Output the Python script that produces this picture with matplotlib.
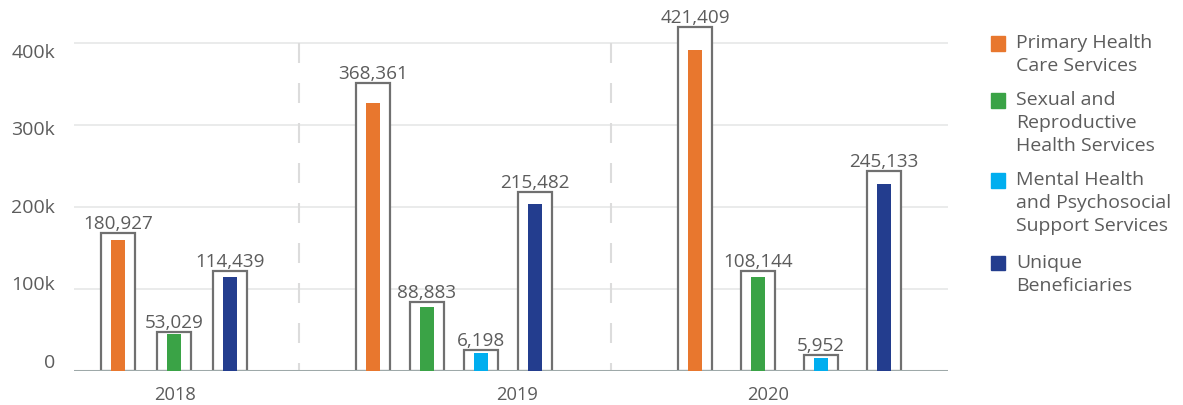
import matplotlib
matplotlib.use('Agg')
from matplotlib import pyplot as plt
from matplotlib.patches import Rectangle

plt.rcParams['font.family'] = ['Open Sans', 'DejaVu Sans']

years = ['2018', '2019', '2020']
series = ['Primary Health\nCare Services',
          'Sexual and\nReproductive\nHealth Services',
          'Mental Health\nand Psychosocial\nSupport Services',
          'Unique\nBeneficiaries']
colors = ['#E8772E', '#3AA346', '#00AEEF', '#233D8E']

# labelled values (None = no bar that year)
primary = [180927, 368361, 421409]
sexual = [53029, 88883, 108144]
mental = [None, 6198, 5952]
unique = [114439, 215482, 245133]

# heights as drawn in the picture (outer box and inner filled bar), in k
box_primary = [168.7, 350.9, 419.5]
box_sexual = [47.9, 83.8, 122.3]
box_mental = [None, 26.0, 19.1]
box_unique = [122.3, 218.7, 244.3]
fill_primary = [159.8, 326.8, 391.5]
fill_sexual = [45.1, 78.0, 114.6]
fill_mental = [None, 22.0, 15.9]
fill_unique = [114.6, 203.7, 228.0]

values = [primary, sexual, mental, unique]
boxes = [box_primary, box_sexual, box_mental, box_unique]
fills = [fill_primary, fill_sexual, fill_mental, fill_unique]

# layout (pixel-ish units along x)
W, H = 1183, 406
x0, x1 = 74, 948
y_zero = 372
px_per_k = 0.82
group_start = [118, 373, 695]
group_step = [56, 54, 63]
year_x = [175.5, 516.7, 767.7]
sep_x = [298.7, 611.3]
grey = '#5c5c5c'

fig = plt.figure(figsize=(W / 100, H / 100), dpi=100)
ax = fig.add_axes([x0 / W, (H - y_zero) / H, (x1 - x0) / W, y_zero / H])
ax.set_xlim(x0, x1)
ax.set_ylim(0, y_zero / px_per_k)
ax.axis('off')

for k in [100, 200, 300, 400]:
    ax.axhline(k, color='#e6e8e8', lw=1.2, zorder=0)
ax.axhline(0, color='#9ea9a9', lw=2.2, zorder=3)
for sx in sep_x:
    ax.plot([sx, sx], [400, 0], color='#dcdcdc', lw=1.5, zorder=0,
            dashes=(9.6, 9.6), solid_capstyle='butt')

for g in range(len(years)):
    slot = 0
    for s in range(len(series)):
        if values[s][g] is None:
            continue
        xc = group_start[g] + slot * group_step[g]
        slot += 1
        ax.bar(xc, boxes[s][g], width=34.5, color='white', edgecolor='#707070',
               linewidth=1.6, zorder=2)
        ax.bar(xc, fills[s][g], width=14.5, color=colors[s], zorder=3)
        ax.annotate(f'{values[s][g]:,}', (xc, boxes[s][g]), xytext=(0, 3.5),
                    textcoords='offset points', ha='center', va='baseline',
                    fontsize=13.6, color=grey)
    ax.text(year_x[g], -23 / px_per_k, years[g], ha='center', va='center',
            fontsize=13.2, color=grey)

# y tick labels (sit slightly off the gridlines in the original)
tick_vals = [0, 100, 200, 300, 400]
for i, t in enumerate(tick_vals):
    ypix = 363 - i * 77.5
    fig.text(55 / W, 1 - ypix / H, '0' if t == 0 else f'{t}k', ha='right',
             va='center', fontsize=14, color=grey)

# legend
leg_top = [44.5, 101.5, 181.3, 264]
for s in range(len(series)):
    fig.add_artist(Rectangle((990.7 / W, 1 - (leg_top[s] + 7.2) / H), 14.5 / W, 14.5 / H,
                             transform=fig.transFigure, color=colors[s]))
    for j, line in enumerate(series[s].split('\n')):
        fig.text(1016 / W, 1 - (leg_top[s] - 1 + j * 23) / H, line, ha='left',
                 va='center', fontsize=14, color=grey)

fig.savefig('out.png', dpi=100)
